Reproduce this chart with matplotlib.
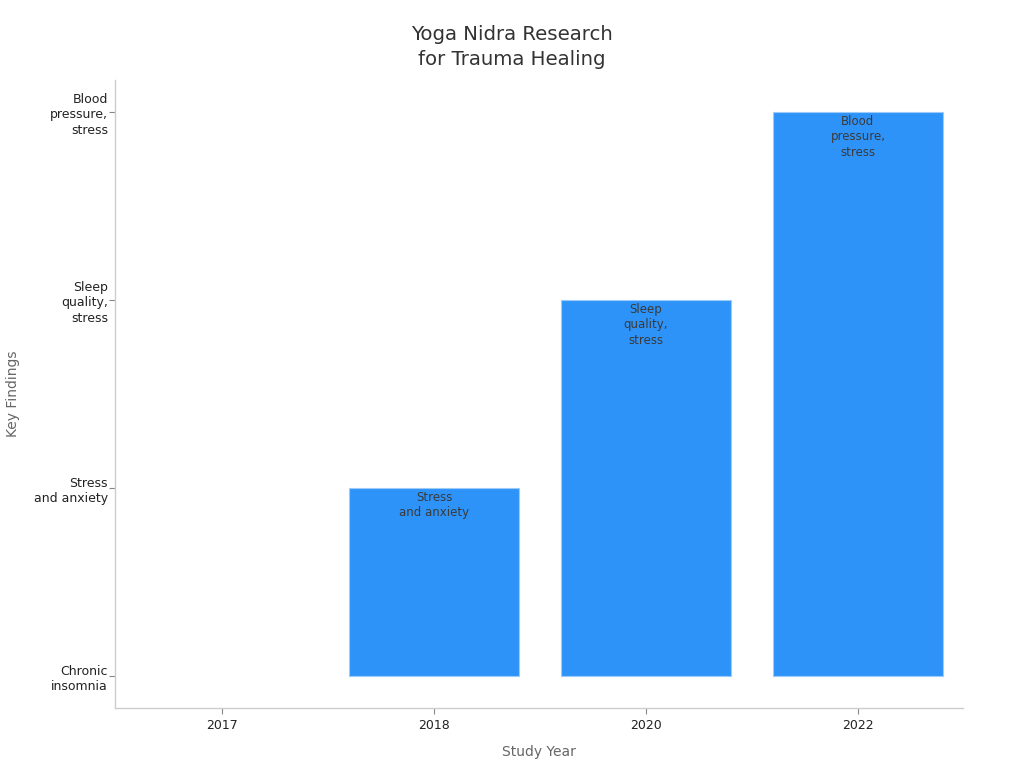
import matplotlib
matplotlib.use('Agg')
import matplotlib.pyplot as plt

years = ['2017', '2018', '2020', '2022']
findings = ['Chronic\ninsomnia', 'Stress\nand anxiety', 'Sleep\nquality,\nstress', 'Blood\npressure,\nstress']
finding_idx = [0, 1, 2, 3]

fig = plt.figure(figsize=(10.24, 7.68), dpi=100)
ax = fig.add_axes([0.1123, 0.078, 0.828, 0.8177])

x = range(len(years))
bars = ax.bar(x, finding_idx, width=0.8, color='#2e93f8', edgecolor='#9ccafa', linewidth=0.8)
# zero-height bar shows nothing in the reference
for b, v in zip(bars, finding_idx):
    if v == 0:
        b.set_linewidth(0)

# labels inside the top of each bar
for i, v in enumerate(finding_idx):
    if v > 0:
        ax.text(i, v - 0.015, findings[v], ha='center', va='top', fontsize=8.5,
                color='#3a3a3a', linespacing=1.25)

ax.set_xlim(-0.505, 3.495)
ax.set_ylim(-0.17, 3.17)
ax.set_xticks(list(x))
ax.set_xticklabels(years, fontsize=9)
ax.set_yticks(range(len(findings)))
ax.set_yticklabels(findings, fontsize=9, linespacing=1.25)
ax.tick_params(axis='both', colors='#888888', labelcolor='#222222', length=4, width=0.8, pad=1)
ax.tick_params(axis='x', pad=4)
for lbl in ax.get_yticklabels():
    lbl.set_y(lbl.get_position()[1])
    lbl.set_verticalalignment('center_baseline')

for s in ['top', 'right']:
    ax.spines[s].set_visible(False)
for s in ['left', 'bottom']:
    ax.spines[s].set_color('#cccccc')
    ax.spines[s].set_linewidth(1)

ax.set_xlabel('Study Year', fontsize=10, color='#666666', labelpad=9)
ax.set_ylabel('Key Findings', fontsize=10, color='#666666', labelpad=10)
fig.suptitle('Yoga Nidra Research\nfor Trauma Healing', fontsize=14.2, color='#333333',
             y=0.967, linespacing=1.35)

fig.savefig('out.png', dpi=100)
